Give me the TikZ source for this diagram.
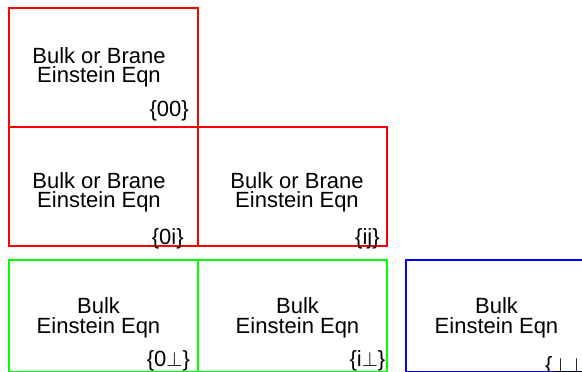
\documentclass[tikz,border=0pt]{standalone}
\usepackage{fontspec}
\setmainfont{Liberation Sans}
\begin{document}
\begin{tikzpicture}[x=1pt,y=-1pt,
  boxline/.style={draw=#1, line width=2pt, line join=miter},
  txt/.style={font=\fontsize{22}{19}\selectfont, inner sep=0pt, anchor=base},
  lab/.style={font=\fontsize{22}{19}\selectfont, inner sep=0pt, anchor=base west}]
\useasboundingbox (0,0) rectangle (582,372);
\clip (0,0) rectangle (582,372);
% corner coordinates
\coordinate (c00a) at (9,8);      \coordinate (c00b) at (197.5,127.3);
\coordinate (c0ia) at (9,127.3);  \coordinate (c0ib) at (197.5,246);
\coordinate (cija) at (197.5,127.3); \coordinate (cijb) at (386.5,246);
\coordinate (c0pa) at (9,259.5);  \coordinate (c0pb) at (197.5,372);
\coordinate (cipa) at (197.5,259.5); \coordinate (cipb) at (386.5,372);
\coordinate (cppa) at (406,259.5); \coordinate (cppb) at (594.5,372);
% boxes
\draw[boxline=red] (c00a) rectangle (c00b);
\draw[boxline=red] (c0ia) rectangle (c0ib);
\draw[boxline=red] (cija) rectangle (cijb);
\draw[boxline=green] (c0pa) rectangle (c0pb);
\draw[boxline=green] (cipa) rectangle (cipb);
\draw[boxline=blue] (cppa) rectangle (cppb);
% texts
\node[txt] (t00a) at (99,63.3) {Bulk or Brane};
\node[txt] (t00b) at (99,82.3) {Einstein Eqn};
\node[txt] (t0ia) at (99,188.3) {Bulk or Brane};
\node[txt] (t0ib) at (99,207.3) {Einstein Eqn};
\node[txt] (tija) at (297,188.3) {Bulk or Brane};
\node[txt] (tijb) at (297,207.3) {Einstein Eqn};
\node[txt] (t0pa) at (98.5,313) {Bulk};
\node[txt] (t0pb) at (98.5,333) {Einstein Eqn};
\node[txt] (tipa) at (297.5,313) {Bulk};
\node[txt] (tipb) at (297.5,333) {Einstein Eqn};
\node[txt] (tppa) at (496.5,313) {Bulk};
\node[txt] (tppb) at (496.5,333) {Einstein Eqn};
% labels
\node[lab] (l00) at (149.3,116) {\{00\}};
\node[lab] (l0i) at (151.7,244) {\{0i\}};
\node[lab] (lij) at (355,244) {\{ij\}};
\node[lab] (l0p) at (146.7,366) {\{0$\perp$\}};
\node[lab] (lip) at (349.4,366) {\{i$\perp$\}};
\node[lab] (lpp) at (545,372) {\{$\perp\perp$\}};
\end{tikzpicture}
\end{document}
